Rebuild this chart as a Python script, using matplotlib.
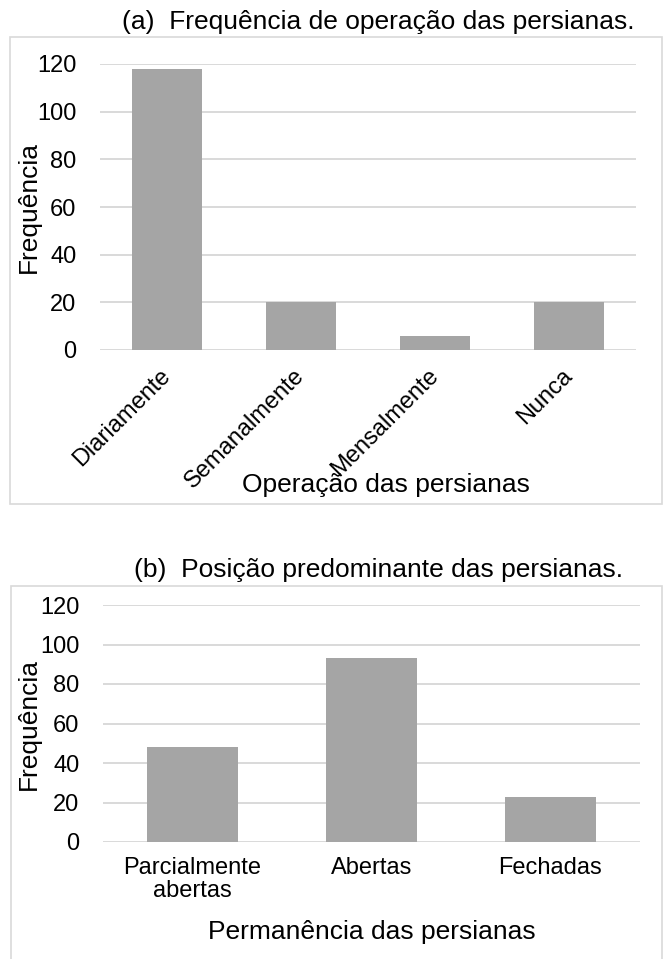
import matplotlib.pyplot as plt
from matplotlib.patches import Rectangle

plt.rcParams['font.family'] = ['Liberation Sans', 'DejaVu Sans']

# (a) operation frequency
op_labels = ['Diariamente', 'Semanalmente', 'Mensalmente', 'Nunca']
op_freq = [118, 20, 6, 20]

# (b) predominant position
pos_labels = ['Parcialmente\nabertas', 'Abertas', 'Fechadas']
pos_freq = [48, 93, 23]

bar_color = '#a5a5a5'
grid_color = '#d9d9d9'
W, H = 664, 959

fig = plt.figure(figsize=(W / 100, H / 100), dpi=100)

# outer chart boxes
fig.patches.append(Rectangle((10 / W, 1 - 504 / H), 652 / W, 467 / H, transform=fig.transFigure,
                             fill=False, edgecolor=grid_color, lw=1.2))
fig.patches.append(Rectangle((11 / W, -0.01), 651 / W, 1 - 586 / H + 0.01, transform=fig.transFigure,
                             fill=False, edgecolor=grid_color, lw=1.2))


def style(ax):
    ax.set_ylim(0, 120)
    ax.set_yticks(range(0, 121, 20))
    ax.grid(axis='y', color=grid_color, lw=1.4)
    ax.set_axisbelow(True)
    for s in ax.spines.values():
        s.set_visible(False)
    ax.tick_params(length=0, labelsize=17)
    ax.tick_params(axis='y', pad=17)
    ax.set_ylabel('Frequência', fontsize=19)


# chart (a)
ax1 = fig.add_axes([100 / W, 1 - 350 / H, 536 / W, 286 / H])
x1 = range(len(op_labels))
ax1.bar(x1, op_freq, width=0.52, color=bar_color)
ax1.set_xlim(-0.5, len(op_labels) - 0.5)
style(ax1)
ax1.set_xticks(list(x1))
ax1.set_xticklabels(op_labels, rotation=45, ha='right', va='center', rotation_mode='anchor')
ax1.tick_params(axis='x', pad=16)
ax1.set_xlabel('Operação das persianas', fontsize=19)
ax1.xaxis.set_label_coords((386 - 100) / 536, -(473 - 350) / 286)
ax1.yaxis.set_label_coords(-(100 - 41) / 536, 0.5)
fig.text(378 / W, 1 - 22 / H, '(a)  Frequência de operação das persianas.', fontsize=19,
         ha='center', va='center')

# chart (b)
ax2 = fig.add_axes([103 / W, 1 - 842 / H, 537 / W, 237 / H])
x2 = range(len(pos_labels))
ax2.bar(x2, pos_freq, width=0.51, color=bar_color)
ax2.set_xlim(-0.5, len(pos_labels) - 0.5)
style(ax2)
ax2.set_xticks(list(x2))
ax2.set_xticklabels(pos_labels, linespacing=1.05)
ax2.tick_params(axis='x', pad=11)
ax2.set_xlabel('Permanência das persianas', fontsize=19)
ax2.xaxis.set_label_coords(0.5, -(920 - 842) / 237)
ax2.yaxis.set_label_coords(-(103 - 41) / 537, 0.5)
fig.text(378 / W, 1 - 570 / H, '(b)  Posição predominante das persianas.', fontsize=19,
         ha='center', va='center')

fig.savefig('out.png', dpi=100)
